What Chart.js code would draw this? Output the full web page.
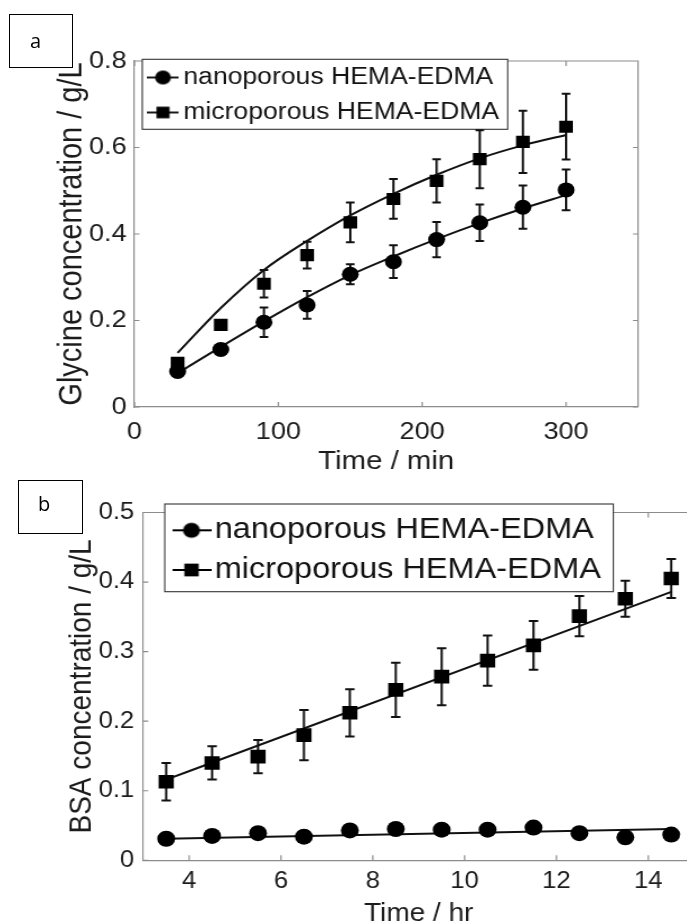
<!DOCTYPE html>
<html><head><meta charset="utf-8">
<script src="https://cdn.jsdelivr.net/npm/chart.js@4.4.1/dist/chart.umd.min.js"></script>
<style>
html,body{margin:0;padding:0;background:#fff;overflow:hidden;width:687px;height:923px;position:relative}
.wrap{position:absolute;left:0;transform-origin:0 0}
.wrap canvas{display:block}
.tag{position:absolute;border:1px solid #000;font-family:"Open Sans","Liberation Sans",sans-serif;font-size:20px;color:#000;z-index:5}
.tag span{position:absolute;line-height:1}
</style></head><body>
<div class="wrap" id="wrapA"><canvas id="chartA"></canvas></div>
<div class="wrap" id="wrapB"><canvas id="chartB"></canvas></div>
<div class="tag" style="left:9px;top:14px;width:62px;height:52px;"><span style="left:20px;top:16px">a</span></div>
<div class="tag" style="left:18px;top:480px;width:63px;height:52px;"><span style="left:19px;top:13px">b</span></div>
<script>
// ---------- data: panel a (glycine) ----------
const timeA = [30, 60, 90, 120, 150, 180, 210, 240, 270, 300];
const nanoA = [0.082, 0.133, 0.196, 0.236, 0.307, 0.336, 0.387, 0.426, 0.462, 0.502];
const nanoErrA = [0.008, 0.006, 0.034, 0.032, 0.023, 0.038, 0.041, 0.042, 0.050, 0.047];
const microA = [0.102, 0.190, 0.285, 0.351, 0.427, 0.481, 0.523, 0.573, 0.613, 0.648];
const microErrA = [0.010, 0.010, 0.032, 0.031, 0.046, 0.046, 0.050, 0.067, 0.072, 0.076];
const nanoFitA = [0.078, 0.139, 0.198, 0.254, 0.305, 0.348, 0.388, 0.425, 0.459, 0.490];
const microFitA = [0.125, 0.229, 0.317, 0.384, 0.443, 0.493, 0.537, 0.575, 0.605, 0.629];
const xTicksA = [0, 100, 200, 300];
const xLabelsA = ['0', '100', '200', '300'];
const yTicksA = [0, 0.2, 0.4, 0.6, 0.8];
const yLabelsA = ['0', '0.2', '0.4', '0.6', '0.8'];

// ---------- data: panel b (BSA) ----------
const timeB = [3.5, 4.5, 5.5, 6.5, 7.5, 8.5, 9.5, 10.5, 11.5, 12.5, 13.5, 14.5];
const nanoB = [0.031, 0.035, 0.039, 0.034, 0.043, 0.045, 0.044, 0.044, 0.047, 0.039, 0.033, 0.037];
const nanoErrB = [0.008, 0, 0, 0, 0, 0, 0, 0, 0, 0, 0, 0];
const microB = [0.113, 0.140, 0.149, 0.180, 0.212, 0.245, 0.264, 0.287, 0.309, 0.351, 0.376, 0.405];
const microErrB = [0.027, 0.024, 0.024, 0.036, 0.034, 0.039, 0.041, 0.036, 0.035, 0.029, 0.026, 0.028];
const fitTimeB = [3.5, 14.5];
const nanoFitB = [0.031, 0.045];
const microFitB = [0.116, 0.386];
const xTicksB = [4, 6, 8, 10, 12, 14];
const xLabelsB = ['4', '6', '8', '10', '12', '14'];
const yTicksB = [0, 0.1, 0.2, 0.3, 0.4, 0.5];
const yLabelsB = ['0', '0.1', '0.2', '0.3', '0.4', '0.5'];

const seriesNames = ['nanoporous HEMA-EDMA', 'microporous HEMA-EDMA'];

const FONT = "'Liberation Sans', Arial, Helvetica, sans-serif";
const TXT = '#1c1c1c';
const AXIS = '#8c8c8c';

function legendIcon(shape, w, h, r) {
  const c = document.createElement('canvas');
  c.width = w; c.height = h;
  const g = c.getContext('2d');
  g.strokeStyle = '#000'; g.lineWidth = 1.8;
  g.beginPath(); g.moveTo(0, h / 2); g.lineTo(w, h / 2); g.stroke();
  g.fillStyle = '#000';
  if (shape === 'circle') { g.beginPath(); g.arc(w / 2, h / 2, r, 0, Math.PI * 2); g.fill(); }
  else { const a = r * Math.SQRT1_2; g.fillRect(w / 2 - a, h / 2 - a, 2 * a, 2 * a); }
  return c;
}

function build(p) {
  const wrap = document.getElementById(p.wrapId);
  wrap.style.top = p.pageTop + 'px';
  wrap.style.width = p.W + 'px';
  wrap.style.height = p.H + 'px';
  wrap.style.transform = 'scaleX(' + p.s + ')';
  const canvas = document.getElementById(p.canvasId);
  canvas.width = p.W; canvas.height = p.H;
  canvas.style.width = p.W + 'px'; canvas.style.height = p.H + 'px';
  const icons = [legendIcon('circle', p.iconW, p.iconH, p.iconRc), legendIcon('rect', p.iconW, p.iconH, p.iconRs)];
  const tl = 5;

  const plugin = {
    id: 'box_' + p.canvasId,
    afterLayout(chart) {
      chart.legend.left = p.legendLeft;
      chart.legend.top = p.legendTop;
    },
    beforeDraw(chart) {
      const { ctx, chartArea: a, scales: { x, y } } = chart;
      ctx.save();
      ctx.strokeStyle = AXIS; ctx.lineWidth = 1.2;
      ctx.beginPath();
      ctx.moveTo(a.left, a.top); ctx.lineTo(a.right, a.top); ctx.lineTo(a.right, a.bottom);
      x.ticks.forEach(t => {
        const px = x.getPixelForValue(t.value);
        ctx.moveTo(px, a.bottom); ctx.lineTo(px, a.bottom - tl);
        ctx.moveTo(px, a.top); ctx.lineTo(px, a.top + tl);
      });
      y.ticks.forEach(t => {
        const py = y.getPixelForValue(t.value);
        ctx.moveTo(a.left, py); ctx.lineTo(a.left + tl / p.s, py);
        ctx.moveTo(a.right, py); ctx.lineTo(a.right - tl / p.s, py);
      });
      ctx.stroke();
      const b = p.legendBox;
      ctx.fillStyle = '#fff';
      ctx.fillRect(b[0], b[1], b[2] - b[0], b[3] - b[1]);
      ctx.strokeStyle = '#333'; ctx.lineWidth = 1.1;
      ctx.strokeRect(b[0], b[1], b[2] - b[0], b[3] - b[1]);
      ctx.restore();
    },
    beforeDatasetsDraw(chart) {
      const { ctx, scales: { x, y } } = chart;
      ctx.save();
      ctx.strokeStyle = '#111'; ctx.lineWidth = p.errW;
      p.errSeries.forEach(ser => {
        ser.xs.forEach((xv, i) => {
          const e = ser.err[i];
          if (!e) return;
          const px = x.getPixelForValue(xv);
          const y1 = y.getPixelForValue(ser.ys[i] - e);
          const y2 = y.getPixelForValue(ser.ys[i] + e);
          ctx.beginPath();
          ctx.moveTo(px, y1); ctx.lineTo(px, y2);
          ctx.moveTo(px - p.cap, y1); ctx.lineTo(px + p.cap, y1);
          ctx.moveTo(px - p.cap, y2); ctx.lineTo(px + p.cap, y2);
          ctx.stroke();
        });
      });
      ctx.restore();
    }
  };

  const pts = (xs, ys) => xs.map((v, i) => ({ x: v, y: ys[i] }));

  return new Chart(canvas, {
    type: 'scatter',
    data: {
      datasets: [
        { label: seriesNames[0], data: pts(p.xs, p.nano), pointStyle: 'circle', pointRadius: p.rc, pointBackgroundColor: '#000', pointBorderWidth: 0, showLine: false },
        { label: seriesNames[1], data: pts(p.xs, p.micro), pointStyle: 'rect', pointRadius: p.rs, pointBackgroundColor: '#000', pointBorderWidth: 0, showLine: false },
        { label: 'fit nano', data: pts(p.fitXs, p.nanoFit), showLine: true, pointRadius: 0, borderColor: '#111', borderWidth: p.lineW, cubicInterpolationMode: 'monotone', fill: false },
        { label: 'fit micro', data: pts(p.fitXs, p.microFit), showLine: true, pointRadius: 0, borderColor: '#111', borderWidth: p.lineW, cubicInterpolationMode: 'monotone', fill: false }
      ]
    },
    options: {
      responsive: false, animation: false, devicePixelRatio: 1,
      layout: { padding: { left: 0, top: p.plotTop, right: p.W - p.plotRight, bottom: 0 } },
      plugins: {
        tooltip: { enabled: false },
        legend: {
          position: 'chartArea', align: 'start',
          labels: {
            usePointStyle: true, pointStyleWidth: p.lgBox, padding: p.lgPad,
            color: '#141414', font: { family: FONT, size: p.lgF },
            generateLabels(chart) {
              return [0, 1].map(i => ({ text: chart.data.datasets[i].label, pointStyle: icons[i], datasetIndex: i, hidden: false, lineWidth: 0, fontColor: '#141414', strokeStyle: '#000', fillStyle: '#000' }));
            }
          }
        }
      },
      scales: {
        x: {
          type: 'linear', position: 'bottom', min: p.xMin, max: p.xMax,
          afterBuildTicks: sc => { sc.ticks = p.xTicks.map(v => ({ value: v })); },
          afterFit: sc => { sc.height = p.H - p.plotBottom; },
          ticks: { autoSkip: false, maxRotation: 0, padding: p.xTickPad, color: TXT, font: { family: FONT, size: p.tickF }, callback: (v, i) => p.xLabels[i] },
          grid: { display: false, drawTicks: false },
          border: { display: true, color: AXIS, width: 1.2 },
          title: { display: true, text: p.xTitle, color: TXT, font: { family: FONT, size: p.xTitleF }, padding: { top: 0, bottom: p.xTitlePad } }
        },
        y: {
          type: 'linear', position: 'left', min: p.yMin, max: p.yMax,
          afterBuildTicks: sc => { sc.ticks = p.yTicks.map(v => ({ value: v })); },
          afterFit: sc => { sc.width = p.plotLeft; },
          ticks: { autoSkip: false, padding: p.yTickPad, color: TXT, font: { family: FONT, size: p.tickF }, callback: (v, i) => p.yLabels[i] },
          grid: { display: false, drawTicks: false },
          border: { display: true, color: AXIS, width: 1.2 },
          title: { display: true, text: p.yTitle, color: TXT, font: { family: FONT, size: p.yTitleF }, padding: { top: p.yTitlePad, bottom: 0 } }
        }
      }
    },
    plugins: [plugin]
  });
}

build({
  wrapId: 'wrapA', canvasId: 'chartA', pageTop: 0, s: 1.13, W: 608, H: 478,
  plotLeft: 119.0, plotRight: 564.6, plotTop: 61, plotBottom: 407,
  xMin: 0, xMax: 350, yMin: 0, yMax: 0.8,
  xs: timeA, nano: nanoA, micro: microA, fitXs: timeA, nanoFit: nanoFitA, microFit: microFitA,
  errSeries: [{ xs: timeA, ys: nanoA, err: nanoErrA }, { xs: timeA, ys: microA, err: microErrA }],
  xTicks: xTicksA, xLabels: xLabelsA, yTicks: yTicksA, yLabels: yLabelsA,
  tickF: 24, xTickPad: 10.6, yTickPad: 7,
  xTitle: 'Time / min', xTitleF: 26, xTitlePad: 0.5,
  yTitle: 'Glycine concentration / g/L', yTitleF: 29, yTitlePad: 46.1,
  lgF: 23.5, lgPad: 11.5, lgBox: 12.5, legendLeft: 126.5, legendTop: 54.2,
  legendBox: [125.9, 59.3, 449.3, 129.3],
  iconW: 28, iconH: 18, iconRc: 7, iconRs: 8.2,
  rc: 7.5, rs: 8.6, errW: 2, cap: 3.8, lineW: 2
});

build({
  wrapId: 'wrapB', canvasId: 'chartB', pageTop: 478, s: 1.12, W: 640, H: 460,
  plotLeft: 127.9, plotRight: 619.8, plotTop: 34.5, plotBottom: 382.3,
  xMin: 3, xMax: 15, yMin: 0, yMax: 0.5,
  xs: timeB, nano: nanoB, micro: microB, fitXs: fitTimeB, nanoFit: nanoFitB, microFit: microFitB,
  errSeries: [{ xs: timeB, ys: nanoB, err: nanoErrB }, { xs: timeB, ys: microB, err: microErrB }],
  xTicks: xTicksB, xLabels: xLabelsB, yTicks: yTicksB, yLabels: yLabelsB,
  tickF: 23, xTickPad: 8, yTickPad: 8,
  xTitle: 'Time / hr', xTitleF: 25, xTitlePad: 9,
  yTitle: 'BSA concentration / g/L', yTitleF: 28, yTitlePad: 56.4,
  lgF: 29, lgPad: 10.7, lgBox: 12.4, legendLeft: 154.1, legendTop: 27.1,
  legendBox: [147.1, 26, 547.6, 113.7],
  iconW: 35, iconH: 20, iconRc: 7.6, iconRs: 9,
  rc: 8, rs: 9.6, errW: 2, cap: 4.2, lineW: 2
});
</script>
</body></html>
